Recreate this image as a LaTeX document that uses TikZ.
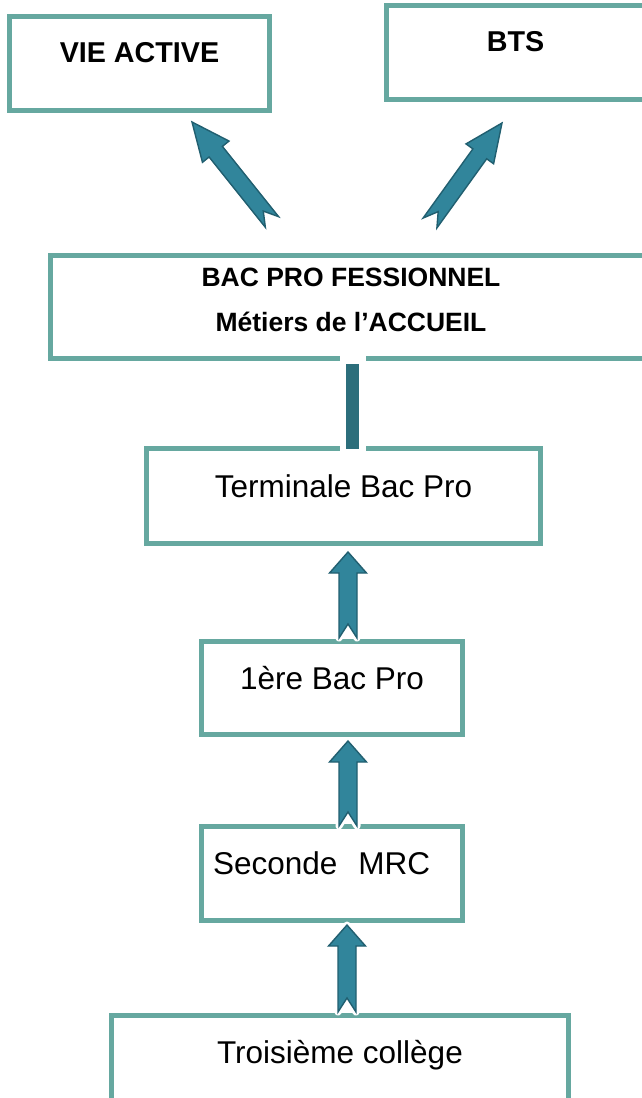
\documentclass[tikz,border=0pt]{standalone}
\usepackage{fontspec}
\setmainfont{Liberation Sans}
\usetikzlibrary{positioning,calc}

\definecolor{boxline}{RGB}{102,168,160}
\definecolor{arrowfill}{RGB}{49,133,155}
\definecolor{arrowedge}{RGB}{33,95,112}
\definecolor{barcol}{RGB}{44,110,123}

% notched block arrow: tail, tip, head length, head half width, shaft half width
\newcommand\notcharrow[5]{%
  \filldraw[blockarrow] ($(#1)!#5!90:(#2)$) -- ($(#1)!14pt!(#2)$) -- ($(#1)!#5!-90:(#2)$)
    -- ($(#2)!#3!(#1)!#5!90:(#1)$) -- ($(#2)!#3!(#1)!#4!90:(#1)$) -- (#2)
    -- ($(#2)!#3!(#1)!#4!-90:(#1)$) -- ($(#2)!#3!(#1)!#5!-90:(#1)$) -- cycle;}

\begin{document}
\begin{tikzpicture}[x=1pt,y=1pt,
box/.style={rectangle, draw=boxline, line width=5pt, fill=white, inner sep=0pt, outer sep=0pt,
  font=\fontsize{31.5}{36}\selectfont, text height=20pt, text depth=18pt},
boldbox/.style={box, font=\fontsize{28.7}{34}\selectfont\bfseries, text height=18pt, text depth=21pt},
bacbox/.style={box, font=\fontsize{26.5}{45}\selectfont\bfseries, align=center, text height={}, text depth={}},
blockarrow/.style={fill=arrowfill, draw=arrowedge, line width=1.4pt, line join=miter,
  preaction={draw=white, line width=7pt, line join=round}},
bar/.style={draw=barcol, line width=13pt, preaction={draw=white, line width=26pt, line cap=rect}}
]
\useasboundingbox (0,0) rectangle (642,-1098);
\clip (0,0) rectangle (642,-1098);

\node[boldbox, minimum width=260pt, minimum height=94pt] (vie) at (139.5,-63.5) {VIE ACTIVE};
\node[boldbox, minimum width=258pt, minimum height=94pt] (bts) at (515.5,-52.5) {BTS};
\node[bacbox, minimum width=601pt, minimum height=103pt] (bac) at (351,-307)
  {BAC PRO FESSIONNEL\\Métiers de l’ACCUEIL\rule[-15pt]{0pt}{15pt}};
\node[box, minimum width=394pt, minimum height=95pt, below=90pt of bac, xshift=-7.5pt] (term) {Terminale Bac Pro};
\node[box, minimum width=261pt, minimum height=93pt, below=98pt of term, xshift=-11.5pt] (prem) {1ère Bac Pro};
\node[box, minimum width=261pt, minimum height=94pt, text width=238pt, align=left, below=92pt of prem] (sec) {Seconde\ \ MRC};
\node[box, minimum width=457pt, minimum height=94pt, below=95pt of sec, xshift=8pt] (tro) {Troisième collège};

% ends of the arrows
\coordinate (vaTail) at ($(bac.north)+(-79,33.5)$);
\coordinate (vaTip) at ($(vie.south)+(52.5,-11.5)$);
\coordinate (btsTail) at ($(bac.north)+(79,32.5)$);
\coordinate (btsTip) at ($(bts.south)+(-13.5,-23.5)$);
\coordinate (a1s) at ([xshift=16pt,yshift=3.5pt]prem.north);
\coordinate (a1e) at ($(a1s |- term.south)+(0,-8.5)$);
\coordinate (a2s) at ([xshift=16pt,yshift=0.5pt]sec.north);
\coordinate (a2e) at ($(a2s |- prem.south)+(0,-6.5)$);
\coordinate (a3s) at ([xshift=7pt,yshift=3.5pt]tro.north);
\coordinate (a3e) at ($(a3s |- sec.south)+(0,-4.5)$);

\notcharrow{vaTail}{vaTip}{38pt}{17pt}{8.5pt}
\notcharrow{btsTail}{btsTip}{38pt}{17pt}{8.5pt}
\draw[bar] ([xshift=1.5pt,yshift=-5.5pt]bac.south) -- ([xshift=1.5pt]bac.south |- term.north);
\notcharrow{a1s}{a1e}{21pt}{18.5pt}{9pt}
\notcharrow{a2s}{a2e}{21pt}{18.5pt}{9pt}
\notcharrow{a3s}{a3e}{21pt}{18.5pt}{9pt}
\end{tikzpicture}
\end{document}
